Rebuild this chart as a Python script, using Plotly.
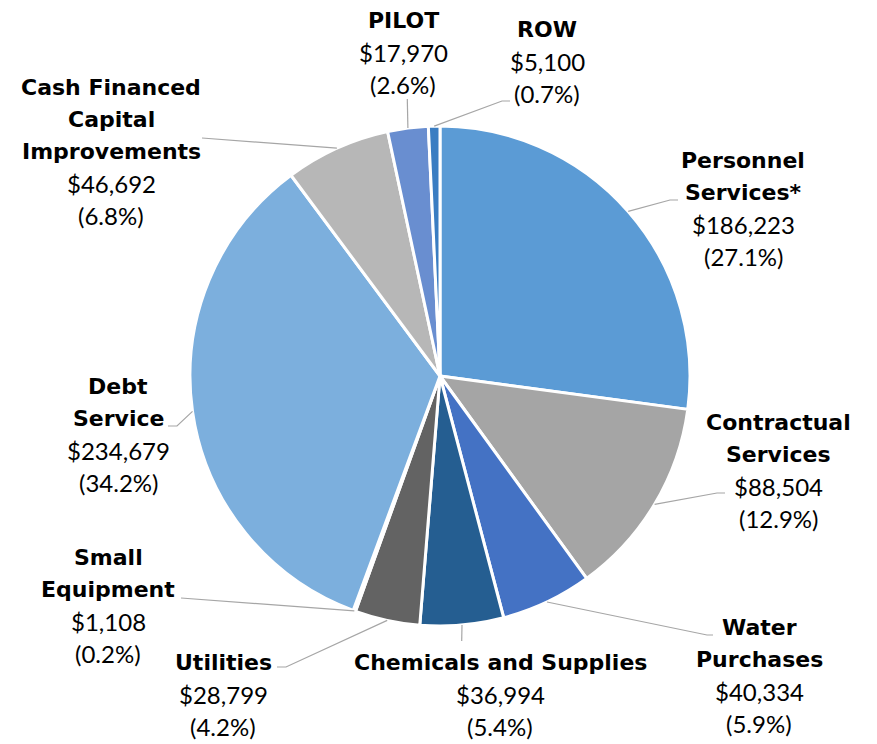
import math
import plotly.graph_objects as go

# ---- data ----
categories = ["Personnel Services*", "Contractual Services", "Water Purchases",
              "Chemicals and Supplies", "Utilities", "Small Equipment",
              "Debt Service", "Cash Financed Capital Improvements", "PILOT", "ROW"]
values = [186223, 88504, 40334, 36994, 28799, 1108, 234679, 46692, 17970, 5100]
name_lines = [["Personnel", "Services*"], ["Contractual", "Services"], ["Water", "Purchases"],
              ["Chemicals and Supplies"], ["Utilities"], ["Small", "Equipment"],
              ["Debt", "Service"], ["Cash Financed", "Capital", "Improvements"],
              ["PILOT"], ["ROW"]]
colors = ["#5B9BD5", "#A5A5A5", "#4472C4", "#255E91", "#636363", "#264478",
          "#7CAFDD", "#B7B7B7", "#698ED0", "#3A7DC2"]

# ---- layout (reference pixels) ----
W, H = 877, 744
OFF = 8  # page body margin
FW, FH = W - OFF, H - OFF
CX, CY, R = 440, 376, 250
label_pos = [(743, 160), (778, 422), (759, 627), (500, 662), (223, 662),
             (108, 557), (118, 386), (111, 87), (403, 20), (547, 29)]
LINE_H = 32
leaders = [((670, 200), (678, 200)), ((717, 493), (725, 493)), ((707, 635), (713, 635)),
           (None, (461.7, 641)), ((286, 667), (277, 667)), (None, (181, 598)),
           ((177, 426), (168, 426)), (None, (202, 138)), (None, (407.3, 99)),
           ((502, 101), (510, 101))]

total = sum(values)
fig = go.Figure()
fig.add_trace(go.Pie(
    labels=categories, values=values, sort=False, direction="clockwise", rotation=0,
    marker=dict(colors=colors, line=dict(color="white", width=3)),
    textinfo="none", hoverinfo="label+value+percent", showlegend=False,
    domain=dict(x=[(CX - R - OFF) / FW, (CX + R - OFF) / FW],
                y=[1 - (CY + R - OFF) / FH, 1 - (CY - R - OFF) / FH]),
))

shapes = []
annotations = []
cum = 0
for i, v in enumerate(values):
    mid = (cum + v / 2) / total * 2 * math.pi
    cum += v
    sx = CX + R * math.sin(mid)
    sy = CY - R * math.cos(mid)
    elbow, end = leaders[i]
    pts = [(sx, sy)] + ([elbow] if elbow else []) + [end]
    path = "M " + " L ".join(f"{x:.1f},{y:.1f}" for x, y in pts)
    shapes.append(dict(type="path", path=path, xref="x", yref="y",
                       line=dict(color="#A6A6A6", width=1.2)))
    pct = v / total * 100
    lines = [(t, True) for t in name_lines[i]] + [(f"${v:,}", False), (f"({pct:.1f}%)", False)]
    lx, ly = label_pos[i]
    for j, (t, bold) in enumerate(lines):
        if bold:
            font = dict(family="DejaVu Sans", size=22, color="black", weight="bold")
        else:
            font = dict(family="Lato", size=24, color="black")
        annotations.append(dict(
            x=lx, y=ly + j * LINE_H, xref="x", yref="y", text=t,
            showarrow=False, xanchor="center", yanchor="middle", font=font))

fig.update_layout(
    width=FW, height=FH, margin=dict(l=0, r=0, t=0, b=0),
    paper_bgcolor="white", plot_bgcolor="rgba(0,0,0,0)",
    xaxis=dict(range=[OFF, W], visible=False, fixedrange=True),
    yaxis=dict(range=[H, OFF], visible=False, fixedrange=True),
    shapes=shapes, annotations=annotations,
)
fig.write_html("out.html")
